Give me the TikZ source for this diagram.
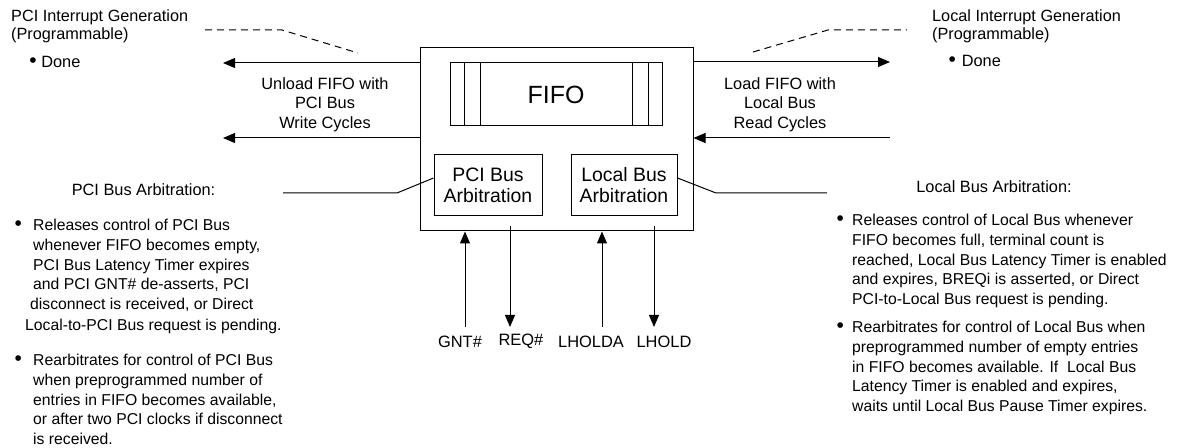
\documentclass[tikz,border=0pt]{standalone}
\usepackage{fontspec}
\setmainfont{Liberation Sans}
\usetikzlibrary{arrows.meta,positioning,calc}
\newcommand{\listdot}{{\fontsize{21}{21}\selectfont\textbullet}}
\tikzset{
  block node/.style={draw,line width=1bp,inner sep=0pt},
  arb node/.style={draw,line width=1bp,inner sep=0pt,align=center,font=\fontsize{19.5}{21}\selectfont},
  bus arrow/.style={-{Triangle[length=12bp,width=10bp]},line width=1bp},
  plain line/.style={line width=1bp},
  hint line/.style={line width=1bp,dash pattern=on 7bp off 5bp},
  label text/.style={inner sep=0pt,font=\fontsize{16.4}{19.5}\selectfont,align=center},
  pin text/.style={inner sep=0pt,font=\fontsize{16.5}{19}\selectfont,text height=11.8bp,text depth=0pt},
  list text/.style={inner sep=0pt,font=\fontsize{15.8}{19.7}\selectfont,align=left}
}

\begin{document}
\begin{tikzpicture}[x=1bp,y=-1bp]
  \useasboundingbox (0,0) rectangle (1190,448);
  % engine with fifo and arbiters
  \node[block node,minimum width=273bp,minimum height=183bp] (engine) at (556.5,139.5) {};
  \node[block node,minimum width=212bp,minimum height=63bp,font=\fontsize{25}{30}\selectfont] (fifo) at (556,94.5) {FIFO};
  \foreach \d in {14.5,30.5} {
    \draw[plain line] ($(fifo.north west)+(\d,0)$) -- ($(fifo.south west)+(\d,0)$);
    \draw[plain line] ($(fifo.north east)+(-\d,0)$) -- ($(fifo.south east)+(-\d,0)$);
  }
  \node[arb node,minimum width=108bp,minimum height=61bp] (pciarb) at (488,185.5) {PCI Bus\\Arbitration};
  \node[arb node,minimum width=106bp,minimum height=61bp] (locarb) at (624,185.5) {Local Bus\\Arbitration};

  % data paths
  \coordinate (unloadA) at (223,63);
  \coordinate (unloadB) at (223,138);
  \coordinate (loadA) at (890,62);
  \coordinate (loadB) at (890,138);
  \draw[bus arrow] (engine.west |- unloadA) -- (unloadA);
  \draw[bus arrow] (engine.west |- unloadB) -- (unloadB);
  \draw[bus arrow] (engine.east |- loadA) -- (loadA);
  \draw[bus arrow] (loadB) -- (engine.east |- loadB);
  \node[label text,anchor=north] (unload) at (325,77.3) {Unload FIFO with\\PCI Bus\\Write Cycles};
  \node[label text,anchor=north] (load) at (780,77.3) {Load FIFO with\\Local Bus\\Read Cycles};

  % interrupts
  \coordinate (pcihintA) at (205,30);
  \coordinate (pcihintB) at (282,30);
  \coordinate (pcihintC) at (358,53);
  \coordinate (lochintA) at (753,52);
  \coordinate (lochintB) at (828,30);
  \coordinate (lochintC) at (907,30);
  \draw[hint line] (pcihintA) -- (pcihintB) -- (pcihintC);
  \draw[hint line] (lochintA) -- (lochintB) -- (lochintC);
  \node[label text,align=left,anchor=north west,font=\fontsize{16.3}{18.5}\selectfont] (pciint) at (11,9.2) {PCI Interrupt Generation\\(Programmable)};
  \node[label text,anchor=base west] (pcidone) at (29.3,67.7) {\listdot\ Done};
  \node[label text,align=left,anchor=north west,font=\fontsize{16.3}{18.5}\selectfont] (locint) at (932,9.2) {Local Interrupt Generation\\(Programmable)};
  \node[label text,anchor=base west] (locdone) at (948.3,67) {\listdot\hspace{6bp}Done};

  % bus signals
  \coordinate (gnt) at (465,327);
  \coordinate (req) at (510,327);
  \coordinate (lholda) at (602,327);
  \coordinate (lhold) at (654,327);
  \draw[bus arrow] (gnt) -- (gnt |- engine.south);
  \draw[bus arrow] ($(req |- engine.south)+(0,-5)$) -- (req);
  \draw[bus arrow] (lholda) -- (lholda |- engine.south);
  \draw[bus arrow] ($(lhold |- engine.south)+(0,-5)$) -- (lhold);
  \node[pin text,below=9bp of gnt,xshift=-5bp] (gntlbl) {GNT\#};
  \node[pin text,below=7bp of req,xshift=11bp] (reqlbl) {REQ\#};
  \node[pin text,below=9bp of lholda,xshift=-11bp] (lholdalbl) {LHOLDA};
  \node[pin text,below=9bp of lhold,xshift=10bp] (lholdlbl) {LHOLD};

  % arbitration notes
  \coordinate (pcinote) at (283,193);
  \coordinate (locnote) at (827,193);
  \draw[plain line] ($(pciarb.west)+(0,-7.5)$) -- ($(pcinote)+(114,0)$) -- (pcinote);
  \draw[plain line] ($(locarb.east)+(0,-7.5)$) -- ($(locnote)+(-111,0)$) -- (locnote);
  \node[label text] (pcititle) at (143.5,190) {PCI Bus Arbitration:};
  \node[label text] (loctitle) at (994,187) {Local Bus Arbitration:};
  \node[list text,anchor=north west] (pcirel) at (33,219.3) {\llap{\listdot\hspace{11.3bp}}Releases control of PCI Bus\\whenever FIFO becomes empty,\\PCI Bus Latency Timer expires\\and PCI GNT\# de-asserts, PCI\\\hspace*{-3bp}disconnect is received, or Direct\\[1.5bp]\hspace*{-8bp}Local-to-PCI Bus request is pending.};
  \node[list text,anchor=north west] (pcirearb) at (33,354.3) {\llap{\listdot\hspace{11.3bp}}Rearbitrates for control of PCI Bus\\when preprogrammed number of\\entries in FIFO becomes available,\\or after two PCI clocks if disconnect\\is received.};
  \node[list text,anchor=north west] (locrel) at (852,214.3) {\llap{\listdot\hspace{8.3bp}}Releases control of Local Bus whenever\\FIFO becomes full, terminal count is\\reached, Local Bus Latency Timer is enabled\\and expires, BREQi is asserted, or Direct\\PCI-to-Local Bus request is pending.};
  \node[list text,anchor=north west] (locrearb) at (852,321.3) {\llap{\listdot\hspace{8.3bp}}Rearbitrates for control of Local Bus when\\preprogrammed number of empty entries\\in FIFO becomes available. If\ \ Local Bus\\Latency Timer is enabled and expires,\\waits until Local Bus Pause Timer expires.};
\end{tikzpicture}
\end{document}
